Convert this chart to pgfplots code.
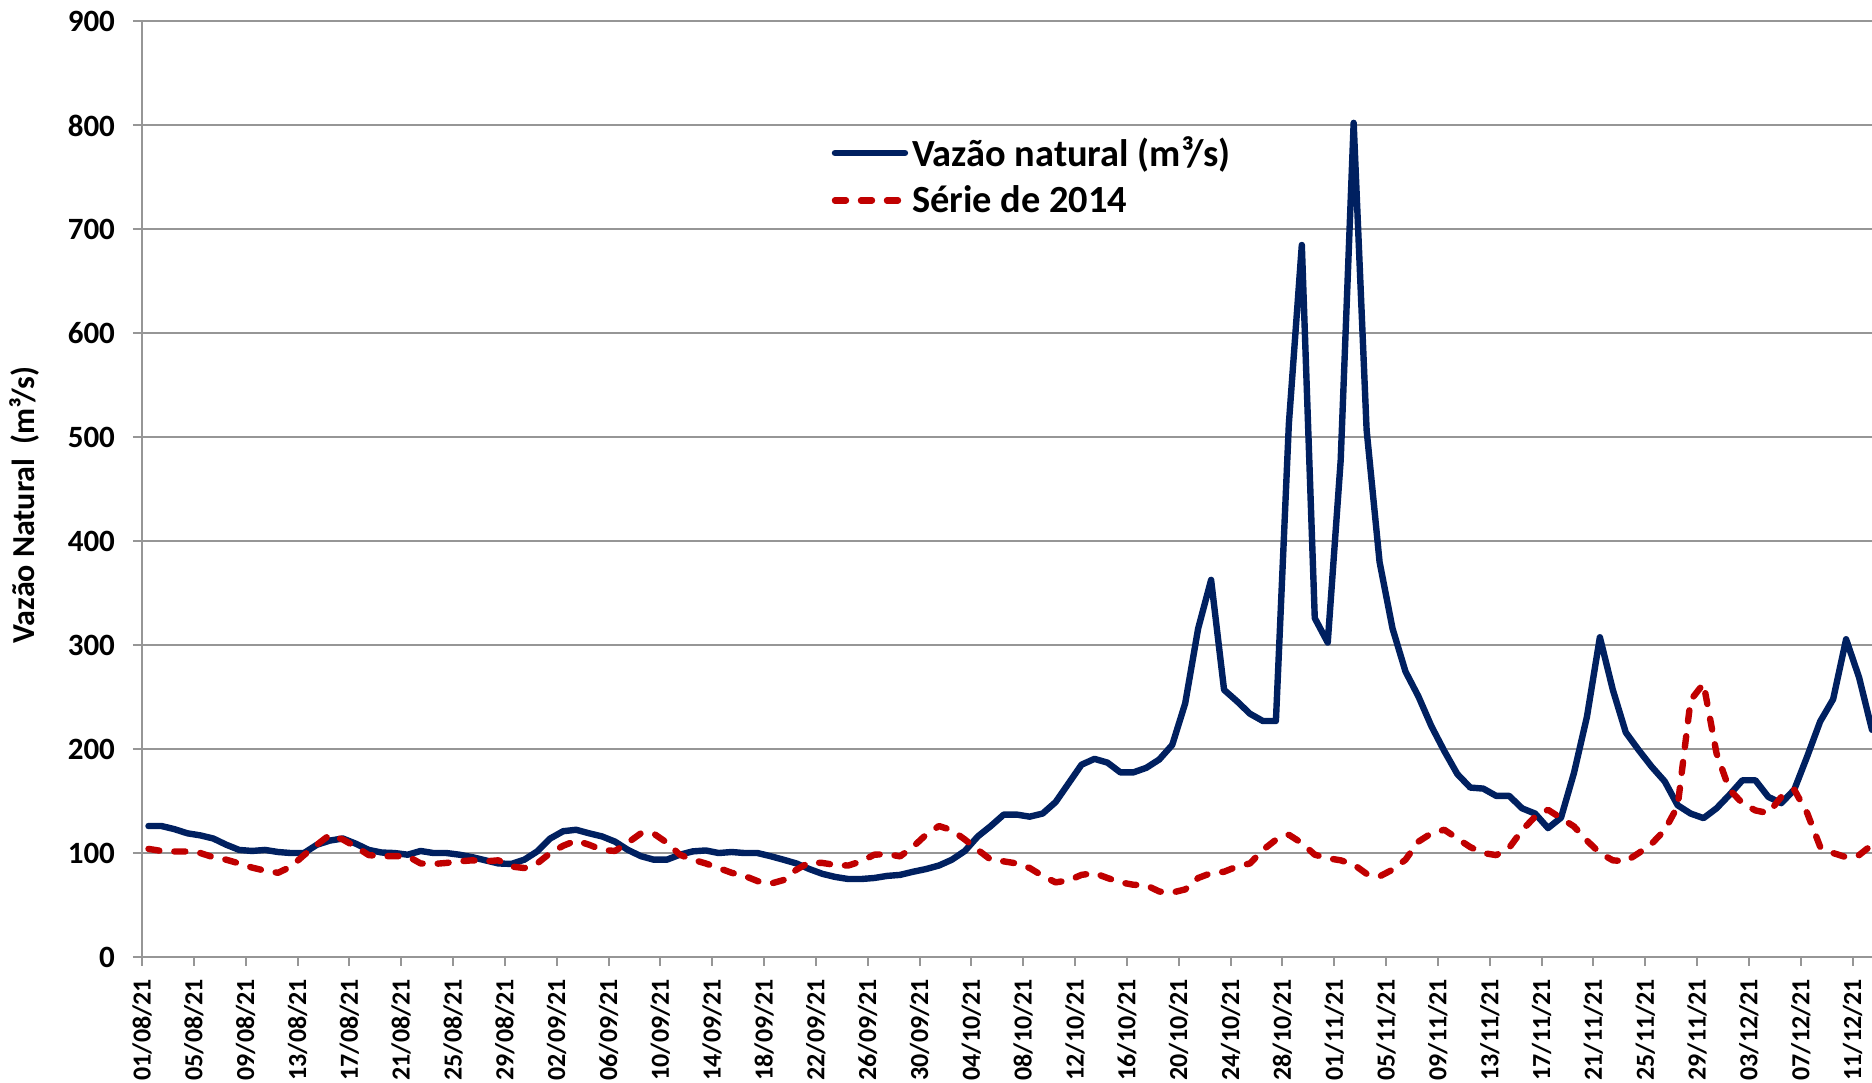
\documentclass[border=0pt]{standalone}
\usepackage{fontspec}
\setmainfont{Carlito}
\usepackage{pgfplots}
\usepackage{pgfplotstable}
\pgfplotsset{compat=1.18}
\usetikzlibrary{calc}
\definecolor{vazao}{RGB}{0,32,96}
\definecolor{serie}{RGB}{192,0,0}
\definecolor{grade}{RGB}{150,150,150}

% dia (0 = 01/08/21, ponto no meio do dia), vazao natural, serie de 2014
\pgfplotstableread{
x     vazao  serie
0.5   126    104
1.5   126    102
2.5   123    101.5
3.5   119    101.5
4.5   117    100
5.5   114    96
6.5   108    93.6
7.5   103    90
8.5   102    86
9.5   103    83
10.5  101    81
11.5  100    87
12.5  100    98
13.5  108    108
14.5  112    117.6
15.5  114    113
16.5  109    106
17.5  103    98
18.5  100.5  97
19.5  100    97
20.5  98.4   97
21.5  102    90
22.5  100    89.5
23.5  100    90.5
24.5  98.4   92
25.5  96     93
26.5  93     92
27.5  90     93
28.5  89.5   87
29.5  93.6   85.6
30.5  101.6  90
31.5  114    100
32.5  121    107
33.5  122.4  112
34.5  119    108
35.5  116    103
36.5  111    102
37.5  103    110
38.5  97     119
39.5  93.6   118.6
40.5  93.6   110
41.5  98.4   98.4
42.5  101.6  93.6
43.5  102.5  90
44.5  100    85.6
45.5  101    81
46.5  100    78
47.5  100    73
48.5  97     70.5
49.5  93.6   74
50.5  90     84
51.5  84.6   91
52.5  80     90.5
53.5  77     88.5
54.5  75     88
55.5  75     92
56.5  76     98.4
57.5  78     99
58.5  79     96.8
59.5  82     106
60.5  84.6   117.6
61.5  88     126
62.5  93.6   122
63.5  102    113
64.5  116    103
65.5  126    93.6
66.5  137    92
67.5  137    90
68.5  135    85.6
69.5  138    78
70.5  149    71.8
71.5  167    73.7
72.5  185    79
73.5  190.6  80.7
74.5  187    76
75.5  177.6  71.8
76.5  177.6  69.5
77.5  182    69
78.5  190    63
79.5  204    62
80.5  244    65
81.5  316    76
82.5  362.8  80.7
83.5  257    82
84.5  246    87
85.5  234    90
86.5  227    103
87.5  227    112.8
88.5  513    117.6
89.5  685    109.6
90.5  326    98.4
91.5  302.5  95
92.5  478    93
93.5  802.5  89
94.5  507    80
95.5  380    77.5
96.5  316    84
97.5  274.6  93.6
98.5  250.6  111
99.5  222    119
100.5 198    122.4
101.5 176    114
102.5 163    105.7
103.5 162    100
104.5 155    98
105.5 155    105
106.5 143    122
107.5 138    135
108.5 124    141.6
109.5 134    133.6
110.5 177    125.6
111.5 231    112
112.5 307.6  100
113.5 257    93
114.5 216    92
115.5 199    100
116.5 183    109
117.5 169    122
118.5 146    145
119.5 138    247
120.5 133.6  263
121.5 143    196
122.5 156    161
123.5 170    148
124.5 170    141
125.5 154    138.4
126.5 148    154
127.5 161    161
128.5 193    138.4
129.5 226.6  106
130.5 248    100
131.5 305.7  96
132.5 269    98
133.5 218.5  108
}\dados

\begin{document}
\begin{tikzpicture}
\begin{axis}[name=ax,
  scale only axis, width=865pt, height=467.75pt,
  xmin=0, xmax=133.5, ymin=0, ymax=900,
  axis x line=bottom, axis y line=left,
  axis line style={draw=grade, line width=1pt, -},
  ytick={0,100,...,900},
  xtick={0,4,...,132},
  xticklabels={01/08/21,05/08/21,09/08/21,13/08/21,17/08/21,21/08/21,25/08/21,29/08/21,
    02/09/21,06/09/21,10/09/21,14/09/21,18/09/21,22/09/21,26/09/21,30/09/21,
    04/10/21,08/10/21,12/10/21,16/10/21,20/10/21,24/10/21,28/10/21,
    01/11/21,05/11/21,09/11/21,13/11/21,17/11/21,21/11/21,25/11/21,29/11/21,
    03/12/21,07/12/21,11/12/21},
  tick align=outside, major tick length=4.5pt,
  tick style={draw=grade, line width=1pt},
  ymajorgrids, major grid style={draw=grade, line width=1pt},
  /pgf/number format/assume math mode=true,
  yticklabel style={font=\fontsize{15.5}{15.5}\selectfont\bfseries, xshift=-5.5pt},
  xticklabel style={font=\fontsize{13}{13}\selectfont\bfseries, rotate=90, anchor=east,
    xshift=-3pt},
  ylabel={Vazão Natural\ \ (m³/s)},
  ylabel style={font=\fontsize{16}{16}\selectfont\bfseries,
    at={(axis description cs:-0.068,0.483)}, anchor=center},
  legend style={draw=none, fill=none, at={(axis description cs:0.395,0.886)},
    anchor=north west, font=\fontsize{19.2}{22}\selectfont\bfseries, row sep=4pt},
  legend cell align=left,
  legend image code/.code={\draw[#1] (0pt,0pt) -- (35pt,0pt);},
]
\addplot[vazao, line width=3.2pt, line join=round, line cap=round]
  table[x=x, y=vazao]{\dados};
\addlegendentry{Vazão natural (m³/s)}
\addplot[serie, line width=3.2pt, line join=round, line cap=round,
  dash pattern=on 5.5pt off 7.5pt]
  table[x=x, y=serie]{\dados};
\addlegendentry{Série de 2014}
\end{axis}
\pgfresetboundingbox
\path ($(ax.south west)+(-71pt,-63pt)$) rectangle ($(ax.north east)+(0pt,10.75pt)$);
\end{tikzpicture}
\end{document}
